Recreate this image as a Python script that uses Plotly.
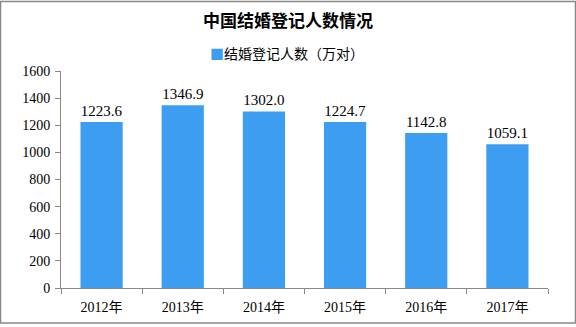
import plotly.graph_objects as go

years = ["2012年", "2013年", "2014年", "2015年", "2016年", "2017年"]
values = [1223.6, 1346.9, 1302.0, 1224.7, 1142.8, 1059.1]
series_name = "结婚登记人数（万对）"
title = "中国结婚登记人数情况"
bar_color = "#3d9df0"

W, H = 576, 327
L, R, T, B = 61, 28, 71, 36
pw, ph = W - L - R, H - T - B

num_font = "Liberation Serif, Noto Sans CJK SC, serif"
cjk_font = "Noto Sans CJK SC, sans-serif"

fig = go.Figure(go.Bar(
    x=years, y=values, name=series_name,
    marker=dict(color=bar_color, line=dict(width=0)),
    width=0.52,
    text=[f"{v:.1f}" for v in values], textposition="outside",
    textfont=dict(size=15, color="#000000", family=num_font),
    cliponaxis=False,
    showlegend=False,
))

fig.update_layout(
    width=W, height=H,
    margin=dict(l=L, r=R, t=T, b=B),
    paper_bgcolor="white", plot_bgcolor="white",
    title=dict(text="<b>" + title + "</b>", x=(288 - L) / pw, xref="paper", y=1 - 21 / H, yref="container",
               xanchor="center", yanchor="middle",
               font=dict(size=17, color="#000000", family=cjk_font)),
    annotations=[dict(
        text=f"<span style='color:{bar_color}'>■</span>{series_name}",
        xref="paper", yref="paper", x=(287 - L) / pw, y=1 + (T - 53) / ph,
        xanchor="center", yanchor="middle", showarrow=False,
        font=dict(size=14, family=cjk_font, color="#000000"))],
    xaxis=dict(showline=True, linecolor="#888888", linewidth=1, ticks="outside",
               tickson="boundaries", ticklen=5, tickcolor="#888888", ticklabelstandoff=6,
               tickfont=dict(size=14, family=num_font, color="#000000"), showgrid=False),
    yaxis=dict(range=[0, 1600], dtick=200, showline=True, linecolor="#888888", linewidth=1,
               ticks="outside", ticklen=5, tickcolor="#888888", showgrid=False, zeroline=False,
               ticklabelstandoff=2,
               tickfont=dict(size=14, family=num_font, color="#000000")),
    shapes=[dict(type="rect", xref="paper", yref="paper",
                 x0=-L / pw + 0.5 / pw, x1=(pw + R) / pw - 0.5 / pw,
                 y0=-B / ph + 0.5 / ph, y1=(ph + T) / ph - 0.5 / ph,
                 line=dict(color="#888888", width=1.5), fillcolor="rgba(0,0,0,0)", layer="above")],
)

fig.write_html("out.html")
